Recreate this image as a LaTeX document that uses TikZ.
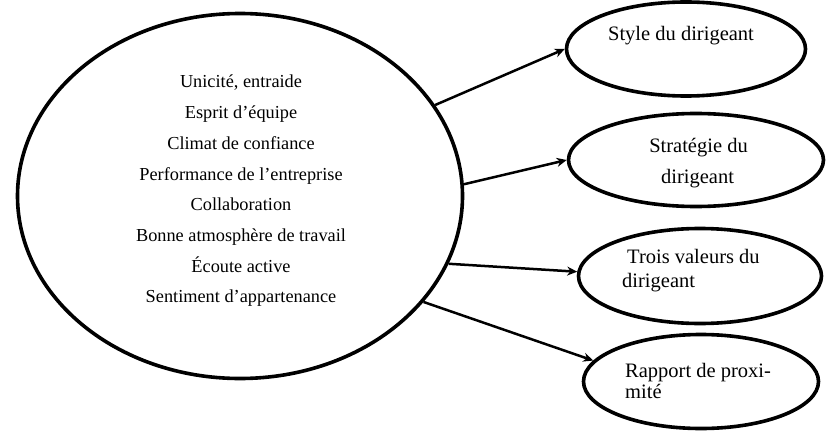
\documentclass[tikz,border=0pt]{standalone}
\usepackage{fontspec}
\setmainfont{Liberation Serif}
\usetikzlibrary{shapes.geometric,arrows.meta}
\begin{document}
\begin{tikzpicture}[x=1pt,y=-1pt,
  oval/.style={ellipse,draw,line width=3.6pt,inner sep=0pt},
  link/.style={line width=2.5pt,-{Stealth[length=10pt,width=9pt]}},
  listtxt/.style={anchor=base,inner sep=0pt,font=\fontsize{18.3}{22}\selectfont},
  sidetxt/.style={inner sep=0pt,font=\fontsize{20.5}{24}\selectfont}]
\useasboundingbox (0,0) rectangle (826,433);

% central ellipse with its list of values
\node[oval,minimum width=445pt,minimum height=365pt] (core) at (240,196) {};
\foreach \t [count=\i] in {{Unicité, entraide},{Esprit d’équipe},{Climat de confiance},
    {Performance de l’entreprise},{Collaboration},{Bonne atmosphère de travail},
    {Écoute active},{Sentiment d’appartenance}}
  \node[listtxt] (item\i) at (241,{88+30.7*(\i-1)}) {\t};

% the four outer ellipses
\node[oval,minimum width=239pt,minimum height=94pt] (style) at (686,49) {};
\node[oval,minimum width=255pt,minimum height=93pt] (strat) at (696,160) {};
\node[oval,minimum width=243pt,minimum height=95pt] (vals) at (700,276) {};
\node[oval,minimum width=235pt,minimum height=94pt] (prox) at (701,381.5) {};

% their labels
\node[sidetxt,anchor=base] (style-a) at (681,41) {Style du dirigeant};
\node[sidetxt,anchor=base] (strat-a) at (698.5,152) {Stratégie du};
\node[sidetxt,anchor=base] (strat-b) at (697.5,183) {dirigeant};
\node[sidetxt,anchor=base west] (vals-a) at (627,263) {Trois valeurs du};
\node[sidetxt,anchor=base west] (vals-b) at (622,287) {dirigeant};
\node[sidetxt,anchor=base west] (prox-a) at (625,377) {Rapport de proxi-};
\node[sidetxt,anchor=base west] (prox-b) at (625,398) {mité};

% connectors
\draw[link] (core.25.7) -- (style.180);
\draw[link] (core.3.6) -- (strat.180);
\draw[link] (core.-18.9) -- (vals.178);
\draw[link] (core.-30.5) -- (prox.169.8);
\end{tikzpicture}
\end{document}
